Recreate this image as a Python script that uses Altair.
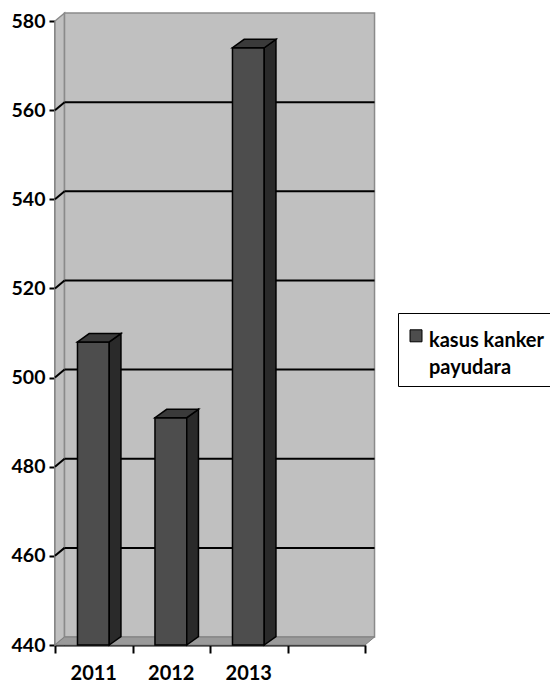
import altair as alt
import pandas as pd

# ---- data ----
years = ["2011", "2012", "2013"]
cases = [508, 491, 574]
series_name = "kasus kanker payudara"
y_ticks = [440, 460, 480, 500, 520, 540, 560, 580]
grid_values = [460, 480, 500, 520, 540, 560]
x_ticks = [0, 1, 2, 3, 4]

# ---- 3D geometry (data units) ----
Y0, Y1 = 440, 580
N_SLOTS = 4
WX, WY = 0.123, 1.79   # depth of the walls
BX, BY = 0.151, 1.88   # depth of the bars
B0, B1 = 0.29, 0.70    # front face of a bar inside its slot

FONT = "Lato"

xs = alt.Scale(domain=[0, N_SLOTS], nice=False, zero=False)
ys = alt.Scale(domain=[Y0, Y1], nice=False, zero=False)

x_axis = alt.Axis(values=x_ticks, labels=False, title=None, grid=False,
                  domainColor="black", domainWidth=2, tickColor="black",
                  tickWidth=2, tickSize=8)
y_axis = alt.Axis(values=y_ticks, title=None, grid=False,
                  domainColor="black", domainWidth=2, tickColor="black",
                  tickWidth=2, tickSize=6, labelFont=FONT, labelFontSize=19.5,
                  labelFontWeight="bold", labelColor="black", labelPadding=4)


def X(f):
    return alt.X(f, type="quantitative", scale=xs, axis=x_axis)


def Y(f):
    return alt.Y(f, type="quantitative", scale=ys, axis=y_axis, stack=None)


# bars
bars = pd.DataFrame({
    "year": years,
    "value": cases,
    "idx": range(len(years)),
})
bars["x0"] = bars["idx"] + B0
bars["x1"] = bars["idx"] + B1
bars["base"] = Y0
bars["series"] = series_name
bars["xc"] = bars["idx"] + 0.5

side_rows, top_rows = [], []
for _, r in bars.iterrows():
    side_rows += [
        {"bar": r.year, "x": r.x1, "y": Y0, "y2": r.value},
        {"bar": r.year, "x": r.x1 + BX, "y": Y0 + BY, "y2": r.value + BY},
    ]
    top_rows += [
        {"bar": r.year, "x": r.x0, "y": r.value, "y2": r.value},
        {"bar": r.year, "x": r.x0 + BX, "y": r.value, "y2": r.value + BY},
        {"bar": r.year, "x": r.x1, "y": r.value, "y2": r.value + BY},
        {"bar": r.year, "x": r.x1 + BX, "y": r.value + BY, "y2": r.value + BY},
    ]
side = pd.DataFrame(side_rows)
top = pd.DataFrame(top_rows)

left_wall = pd.DataFrame([
    {"x": 0, "y": Y0, "y2": Y1},
    {"x": WX, "y": Y0 + WY, "y2": Y1 + WY},
])
back_wall = pd.DataFrame([{"x": WX, "x2": N_SLOTS + WX, "y": Y0 + WY, "y2": Y1 + WY}])
floor = pd.DataFrame([
    {"x": 0, "y": Y0, "y2": Y0},
    {"x": WX, "y": Y0, "y2": Y0 + WY},
    {"x": N_SLOTS, "y": Y0, "y2": Y0 + WY},
    {"x": N_SLOTS + WX, "y": Y0 + WY, "y2": Y0 + WY},
])
grid = pd.DataFrame({"v": grid_values})
grid["yb"] = grid["v"] + WY
grid["xl"] = WX
grid["xr"] = N_SLOTS + WX
grid["x0"] = 0

wall_l = alt.Chart(left_wall).mark_area(
    orient="vertical", fill="#c0c0c0", stroke="#8a8a8a", strokeWidth=1.5
).encode(x=X("x"), y=Y("y"), y2="y2")

wall_b = alt.Chart(back_wall).mark_rect(
    fill="#c0c0c0", stroke="#8a8a8a", strokeWidth=1.5
).encode(x=X("x"), x2="x2", y=Y("y"), y2="y2")

floor_l = alt.Chart(floor).mark_area(
    orient="vertical", fill="#9a9a9a", stroke="#808080", strokeWidth=1
).encode(x=X("x"), y=Y("y"), y2="y2")

grid_back = alt.Chart(grid).mark_rule(color="black", strokeWidth=2).encode(
    x=X("xl"), x2="xr", y=Y("yb"))
grid_side = alt.Chart(grid).mark_rule(color="black", strokeWidth=2).encode(
    x=X("x0"), x2="xl", y=Y("v"), y2="yb")

front = alt.Chart(bars).mark_rect(stroke="black", strokeWidth=1.5).encode(
    x=X("x0"), x2="x1", y=Y("base"), y2="value",
    color=alt.Color(
        "series:N",
        scale=alt.Scale(domain=[series_name], range=["#4d4d4d"]),
        legend=alt.Legend(
            title=None, orient="none", legendX=343, legendY=292,
            strokeColor="black", padding=8,
            symbolType="M-1,-0.2L1,-0.2L1,1.8L-1,1.8Z",
            symbolSize=144, symbolStrokeColor="black", symbolStrokeWidth=1,
            labelFont=FONT, labelFontSize=20, labelFontWeight="bold",
            labelColor="black", labelBaseline="top", labelLimit=400,
            labelOffset=3,
            labelExpr="['kasus kanker', 'payudara']",
        ),
    ),
)

side_l = alt.Chart(side).mark_area(
    orient="vertical", fill="#2a2a2a", stroke="black", strokeWidth=1.5
).encode(x=X("x"), y=Y("y"), y2="y2", detail="bar:N")

top_l = alt.Chart(top).mark_area(
    orient="vertical", fill="#3a3a3a", stroke="black", strokeWidth=1.5
).encode(x=X("x"), y=Y("y"), y2="y2", detail="bar:N")

labels = alt.Chart(bars).mark_text(
    font=FONT, fontSize=20, fontWeight="bold", color="black", dy=29,
    baseline="middle", align="center"
).encode(x=X("xc"), y=Y("base"), text="year:N")

chart = alt.layer(
    wall_l, wall_b, floor_l, grid_back, grid_side, front, side_l, top_l, labels
).properties(
    width=310, height=624,
    autosize=alt.AutoSizeParams(type="none"),
    padding={"left": 47, "top": 13, "right": 185, "bottom": 38},
).configure_view(stroke=None).configure_legend(strokeWidth=2).configure(
    style={"guide-label": {"lineHeight": 27}})

chart.save("out.html", embed_options={"renderer": "svg", "actions": False})
